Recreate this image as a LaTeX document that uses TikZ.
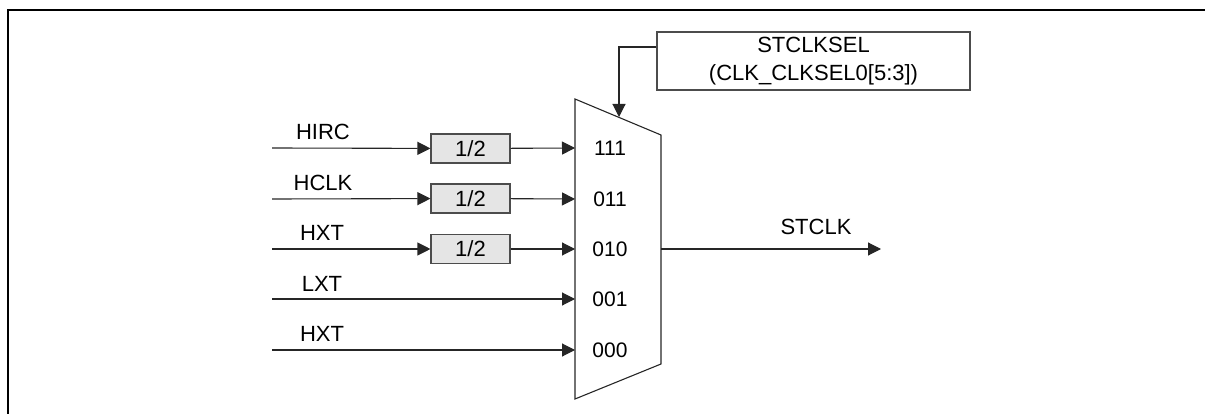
\documentclass[tikz,border=0pt]{standalone}
\usepackage{fontspec}
\setmainfont{Liberation Sans}
\usetikzlibrary{arrows.meta, positioning}

\begin{document}
\begin{tikzpicture}[
  x=1pt, y=-1pt,
  >={Triangle[length=13pt,width=13pt]},
  every node/.style={font=\fontsize{22}{26}\selectfont, inner sep=0pt},
  wire/.style={draw=black!85, line width=1.1pt},
  portlabel/.style={font=\fontsize{21}{24}\selectfont},
  divbox/.style={draw=black!70, fill=black!10, line width=1.1pt,
                 minimum width=79pt, minimum height=29pt},
  selbox/.style={draw=black!70, line width=1.1pt, align=center,
                 minimum width=313pt, minimum height=58pt,
                 font=\fontsize{22}{28}\selectfont}
]
\useasboundingbox (0,0) rectangle (1205,414);

% ---- Frame ----
\draw[line width=2pt] (7.5,414) -- (7.5,10.5) -- (1205,10.5);

% ---- Multiplexer ----
\draw[line width=1.1pt, black!85] (575,99) -- (661,135) -- (661,364) -- (575,399) -- cycle;
\coordinate (p1) at (575,148);
\coordinate (p2) at (575,199);
\coordinate (p3) at (575,249);
\coordinate (p4) at (575,299);
\coordinate (p5) at (575,350);
\node[portlabel] (s1) at (610,148) {111};
\node[portlabel] (s2) at (610,199) {011};
\node[portlabel] (s3) at (610,249) {010};
\node[portlabel] (s4) at (610,299) {001};
\node[portlabel] (s5) at (610,350) {000};

% ---- Inputs ----
\coordinate (in1) at (272,148);
\coordinate (in2) at (272,199);
\coordinate (in3) at (272,249);
\coordinate (in4) at (272,299);
\coordinate (in5) at (272,350);
\node (hirc) at (323,132) {HIRC};
\node (hclk) at (323,183) {HCLK};
\node (hxt)  at (322,233) {HXT};
\node (lxt)  at (322,284) {LXT};
\node (hxtb) at (322,334) {HXT};

% ---- Dividers ----
\node[divbox] (div1) at (470.5,148.5) {1/2};
\node[divbox] (div2) at (470.5,198.5) {1/2};
\node[divbox] (div3) at (470.5,249) {1/2};

\draw[wire, ->] (in1) -- (div1);
\draw[wire, ->] (in2) -- (div2);
\draw[wire, ->] (in3) -- (div3);
\draw[wire, ->] (div1) -- (p1);
\draw[wire, ->] (div2) -- (p2);
\draw[wire, ->] (div3) -- (p3);
\draw[wire, ->] (in4) -- (p4);
\draw[wire, ->] (in5) -- (p5);

% ---- Clock select ----
\node[selbox] (sel) at (813.5,61) {STCLKSEL\\(CLK\_CLKSEL0[5:3])};
\coordinate (mtop) at (619,117);
\draw[wire, ->] ([yshift=14pt]sel.west) -| (mtop);

% ---- Output ----
\coordinate (mout) at (661,249);
\coordinate (clkout) at (881,249);
\draw[wire, ->] (mout) -- (clkout);
\node (stclk) at (816,227) {STCLK};

\end{tikzpicture}
\end{document}
